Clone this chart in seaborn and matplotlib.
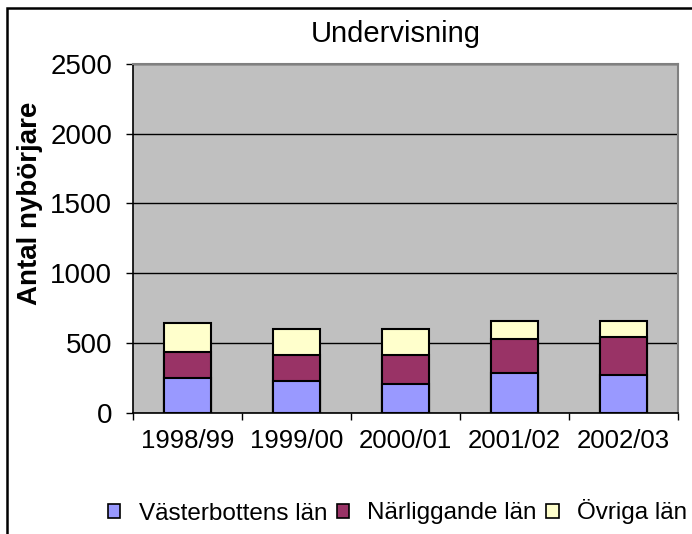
import numpy as np
import pandas as pd
import seaborn as sns
import matplotlib.pyplot as plt
from matplotlib.patches import Patch, Rectangle

years = ["1998/99", "1999/00", "2000/01", "2001/02", "2002/03"]
vasterbotten = [251, 226, 209, 284, 267]
narliggande = [187, 185, 202, 245, 273]
ovriga = [207, 190, 190, 132, 121]
series_names = ["Västerbottens län", "Närliggande län", "Övriga län"]
colors = ["#9999FF", "#993366", "#FFFFCC"]

df = pd.DataFrame({"year": years, "v": vasterbotten, "n": narliggande, "o": ovriga})
df["vn"] = df["v"] + df["n"]
df["total"] = df["vn"] + df["o"]

sns.set_style("white")
plt.rcParams["font.family"] = ["Liberation Sans", "DejaVu Sans"]
plt.rcParams["text.color"] = "black"
plt.rcParams["xtick.color"] = "black"
plt.rcParams["ytick.color"] = "black"

fig = plt.figure(figsize=(6.92, 5.34), dpi=100)
ax = fig.add_axes([133 / 692, 1 - 412.7 / 534, 545 / 692, 348.7 / 534])
ax.set_facecolor("#C0C0C0")

# stacked bars drawn as overlapping cumulative bars
for col, c in zip(["total", "vn", "v"], colors[::-1]):
    sns.barplot(data=df, x="year", y=col, color=c, edgecolor="black",
                linewidth=1.5, width=0.43, ax=ax, zorder=3, saturation=1)

ax.set_ylim(0, 2500)
ax.set_xlim(-0.5, 4.5)
ax.set_yticks(range(0, 2501, 500))
ax.yaxis.grid(True, color="black", linewidth=1)
ax.set_axisbelow(True)
ax.set_xlabel("")
ax.set_ylabel("")

ax.set_xticks(np.arange(-0.5, 5, 1), minor=False)
ax.set_xticklabels([])
ax.set_xticks(range(5), minor=True)
ax.set_xticklabels(years, minor=True, fontsize=18.5)
ax.tick_params(axis="x", which="major", direction="out", length=5, width=1, color="black", bottom=True)
ax.tick_params(axis="x", which="minor", length=0, pad=12)
ax.tick_params(axis="y", direction="out", length=5, width=1, color="black", left=True,
               labelsize=20, pad=10)

for s in ["top", "right"]:
    ax.spines[s].set_color("#808080")
    ax.spines[s].set_linewidth(1.5)
for s in ["left", "bottom"]:
    ax.spines[s].set_color("black")
    ax.spines[s].set_linewidth(1.2)

fig.text(396 / 692, 1 - 34 / 534, "Undervisning", fontsize=21, ha="center", va="center")
fig.text(30 / 692, 1 - 203 / 534, "Antal nybörjare", fontsize=20, fontweight="bold",
         rotation=90, ha="center", va="center")

handles = [Patch(facecolor=c, edgecolor="black", linewidth=1.2) for c in colors]
fig.legend(handles, series_names, loc="center right", bbox_to_anchor=(687 / 692, 1 - 512 / 534),
           ncol=3, frameon=False, fontsize=17.5, handlelength=0.5, handleheight=0.5,
           handletextpad=0.75, columnspacing=0.4, borderpad=0, borderaxespad=0)

fig.patches.append(Rectangle((7 / 692, -0.1), 1.2, 1.1 - 8 / 534, transform=fig.transFigure,
                             fill=False, edgecolor="black", linewidth=1.8))

fig.savefig("out.png", dpi=100)
